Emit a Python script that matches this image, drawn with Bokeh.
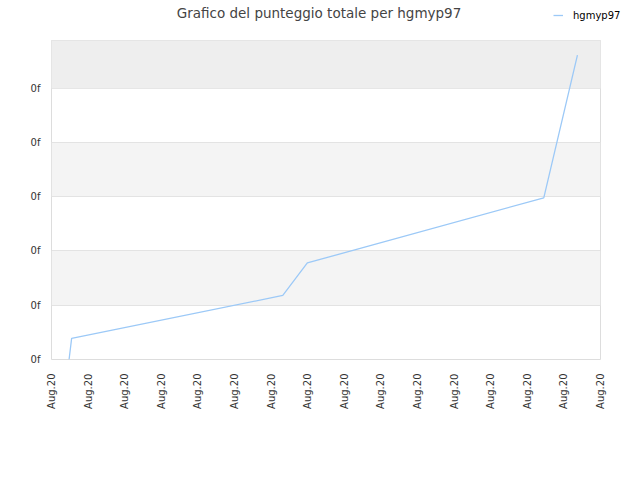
from bokeh.plotting import figure
from bokeh.layouts import column
from bokeh.models import Range1d, FixedTicker, BoxAnnotation, Legend, LegendItem, Label
from bokeh.embed import file_html
from bokeh.resources import INLINE

# dati
x_days = [0.48, 0.55, 6.32, 6.99, 13.45, 14.37]
punteggio = [0.0, 0.39, 1.18, 1.78, 2.98, 5.61]

x_ticks = list(range(16))
x_labels = ["Aug.20"] * 16
y_ticks = [0, 1, 2, 3, 4, 5]
y_labels = ["0f"] * 6

titolo = "Grafico del punteggio totale per hgmyp97"
serie = "hgmyp97"
COLORE = "#9cc9f7"
FONT = "DejaVu Sans"

## Intestazione: titolo + legenda sulla stessa riga ##########################
head = figure(width=632, height=40, output_backend="svg", toolbar_location=None,
              x_range=Range1d(0, 632), y_range=Range1d(40, 0),
              x_axis_location=None, y_axis_location=None,
              min_border_left=0, min_border_right=0,
              min_border_top=0, min_border_bottom=0,
              outline_line_color=None)
head.title = None
head.grid.visible = False
head.frame_align = False

head.add_layout(Label(x=318.5, y=12.5, text=titolo, text_align="center",
                      text_baseline="middle", text_font=FONT,
                      text_font_size="13.5px", text_color="#444444"))

# la serie fuori vista, serve solo per il simbolo della legenda
head.extra_x_ranges = {"fuori": Range1d(1000, 2000)}
swatch = head.line(x_days, punteggio, x_range_name="fuori",
                   line_color=COLORE, line_width=1.3)
legend = Legend(items=[LegendItem(label=serie, renderers=[swatch])],
                location=(553, 18), padding=0, margin=0,
                border_line_color=None, background_fill_alpha=0,
                glyph_width=10, glyph_height=14, label_height=14,
                label_standoff=10,
                label_text_font=FONT, label_text_font_size="10px",
                label_text_color="#000000")
head.add_layout(legend, "center")

## Grafico ###################################################################
p = figure(width=632, height=432, output_backend="svg", toolbar_location=None,
           x_range=Range1d(0, 15), y_range=Range1d(0, 5.88),
           min_border_left=51, min_border_right=32, min_border_top=0,
           min_border_bottom=113)
p.title = None
p.frame_align = False

p.outline_line_color = "#dddddd"
p.background_fill_color = "white"

# bande
p.ygrid.ticker = FixedTicker(ticks=y_ticks)
p.ygrid.grid_line_color = "#e3e3e3"
p.ygrid.band_fill_color = "#f4f4f4"
p.ygrid.band_fill_alpha = 1
p.xgrid.grid_line_color = None
p.add_layout(BoxAnnotation(bottom=y_ticks[-1], fill_color="#eeeeee",
                           fill_alpha=1, line_color=None, level="underlay"))

p.line(x_days, punteggio, line_color=COLORE, line_width=1.3)

for ax in (p.xaxis, p.yaxis):
    ax.axis_line_color = None
    ax.major_tick_line_color = None
    ax.minor_tick_line_color = None
    ax.major_tick_out = 0
    ax.minor_tick_out = 0
    ax.major_label_text_font = FONT
    ax.major_label_text_font_size = "10px"
    ax.major_label_text_color = "#333333"

p.xaxis.ticker = FixedTicker(ticks=x_ticks)
p.xaxis.major_label_overrides = {t: l for t, l in zip(x_ticks, x_labels)}
p.xaxis.major_label_orientation = 1.5708
p.xaxis.major_label_standoff = 14
p.yaxis.ticker = FixedTicker(ticks=y_ticks)
p.yaxis.major_label_overrides = {t: l for t, l in zip(y_ticks, y_labels)}
p.yaxis.major_label_standoff = 11

layout = column(head, p, spacing=0)

open("out.html", "w").write(file_html(layout, INLINE))
